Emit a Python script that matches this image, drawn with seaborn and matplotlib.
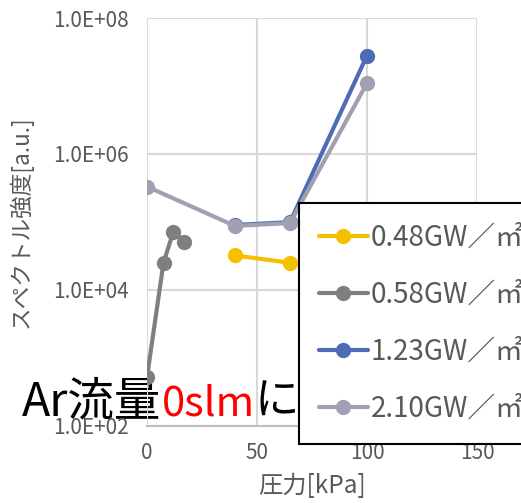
import matplotlib
matplotlib.use("Agg")
import matplotlib.pyplot as plt
import seaborn as sns
import pandas as pd
import numpy as np

sns.set_theme(style="white")
plt.rcParams['font.family'] = ['Noto Sans CJK JP', 'DejaVu Sans']

# Data
series_labels = ["0.48GW／㎡", "0.58GW／㎡", "1.23GW／㎡", "2.10GW／㎡"]
p_048 = [40, 65]
v_048 = [3.2e4, 2.5e4]
p_058 = [0, 7.5, 12, 17]
v_058 = [5.2e2, 2.5e4, 7.2e4, 5.1e4]
p_123 = [40, 65, 100]
v_123 = [9.0e4, 9.9e4, 2.8e7]
p_210 = [0, 40, 65, 100]
v_210 = [3.3e5, 8.7e4, 9.6e4, 1.1e7]
colors = ["#F5C000", "#7F7F7F", "#4E6CB4", "#A0A0B2"]

x_ticks = [0, 50, 100, 150]
y_ticks = [1e2, 1e4, 1e6, 1e8]
y_ticklabels = ["1.0E+02", "1.0E+04", "1.0E+06", "1.0E+08"]

frames = []
for lab, xs, ys in zip(series_labels, [p_048, p_058, p_123, p_210],
                       [v_048, v_058, v_123, v_210]):
    frames.append(pd.DataFrame({"圧力": xs, "強度": ys, "系列": lab}))
df = pd.concat(frames, ignore_index=True)

fig = plt.figure(figsize=(5.21, 5.03), dpi=100)
ax = fig.add_axes([147/521, 1-425.7/503, (477-147)/521, (425.7-18)/503])
ax.set_facecolor('none')

for i, lab in enumerate(series_labels):
    sub = df[df["系列"] == lab]
    sns.lineplot(data=sub, x="圧力", y="強度", ax=ax, color=colors[i],
                 marker='o', markersize=11, markeredgewidth=0, linewidth=3,
                 label=lab, sort=False, estimator=None, zorder=3 + i * 0.1)

ax.set_yscale('log')
ax.set_xlim(0, 150)
ax.set_ylim(1e2, 1e8)
ax.set_xticks(x_ticks)
ax.set_xticklabels([str(t) for t in x_ticks])
ax.set_yticks(y_ticks)
ax.set_yticklabels(y_ticklabels)
ax.yaxis.set_minor_locator(matplotlib.ticker.NullLocator())
ax.grid(True, color='#D9D9D9', linewidth=1.5)
ax.set_axisbelow(True)
for s in ['top', 'right', 'left']:
    ax.spines[s].set_visible(False)
ax.spines['bottom'].set_color('#BFBFBF')
ax.spines['bottom'].set_linewidth(1.5)
ax.tick_params(axis='both', length=0, labelsize=15, colors='#595959')
ax.tick_params(axis='x', pad=12)
ax.tick_params(axis='y', pad=13)

ax.set_xlabel("圧力[kPa]", fontsize=17.5, color='#595959', labelpad=6)
ax.set_ylabel("スペクトル強度[a.u.]", fontsize=16.3, color='#595959')
ax.yaxis.set_label_coords(-0.345, 0.5)

leg = ax.legend(loc='upper left', bbox_to_anchor=(299/521, 1-202.7/503),
                bbox_transform=fig.transFigure, fontsize=20, frameon=True,
                fancybox=False, edgecolor='black', framealpha=1,
                labelspacing=0.97, handlelength=1.75, handletextpad=0.1,
                borderpad=0.72, borderaxespad=0)
leg.get_frame().set_linewidth(1.5)
for t in leg.get_texts():
    t.set_color('#595959')

# overlay text (drawn beneath the axes)
base_y = 1 - 415/503
fig.text(22/521, base_y, "Ar流量", fontsize=33.5, color='black',
         va='baseline', ha='left', zorder=-1)
fig.text(162/521, base_y, "0slm", fontsize=30, color='red',
         va='baseline', ha='left', zorder=-1)
fig.text(255/521, base_y, "に", fontsize=32, color='black',
         va='baseline', ha='left', zorder=-1)

fig.savefig("out.png", dpi=100)
